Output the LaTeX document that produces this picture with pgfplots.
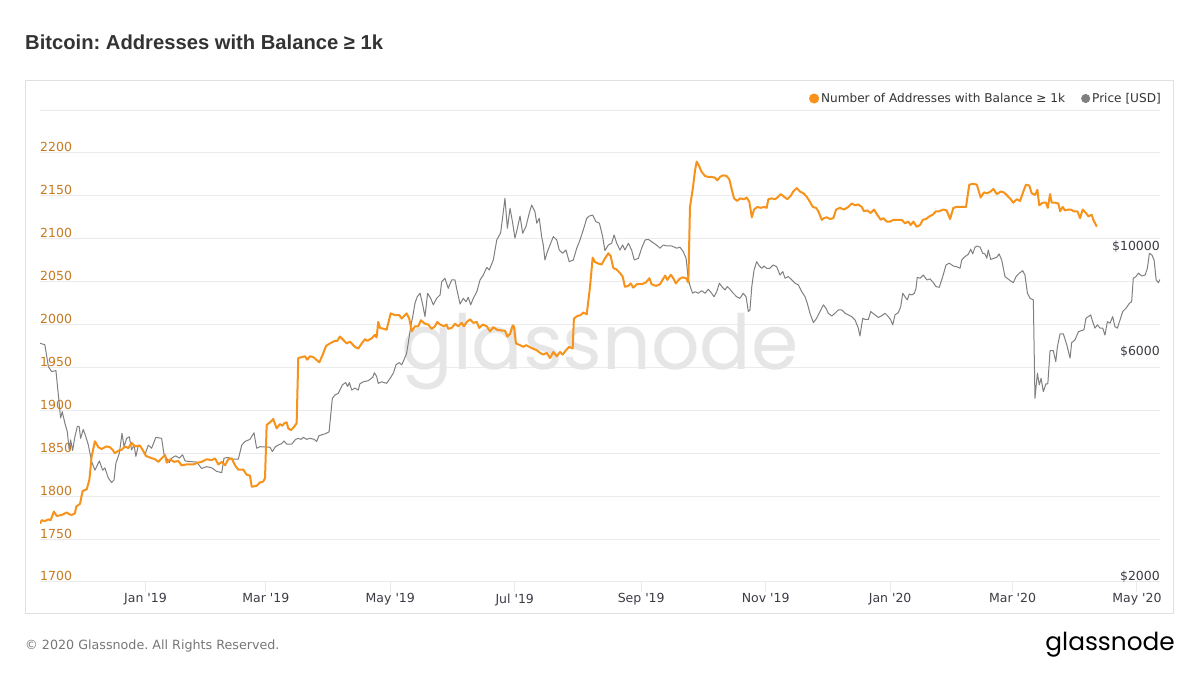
\documentclass[border=0pt]{standalone}
\usepackage{pgfplots}
\pgfplotsset{compat=1.18}
\usepackage{fontspec}
\setmainfont{DejaVu Sans}
\newfontfamily\titlefont{Liberation Sans}
\newfontfamily\logofont{Poppins}

\definecolor{btcorange}{HTML}{F7931A}
\definecolor{pricegray}{HTML}{808080}
\definecolor{gridgray}{HTML}{EBEBEB}
\definecolor{framegray}{HTML}{E0E0E0}
\definecolor{leftlab}{HTML}{C97A20}
\definecolor{darklab}{HTML}{3C3C46}
\definecolor{titlecol}{HTML}{333333}
\definecolor{footgray}{HTML}{777777}
\definecolor{wmgray}{HTML}{E6E6E6}

\newcommand\lab{\fontsize{12.5}{15}\selectfont}

% all three axes share this frame (1px = 1pt)
\pgfplotsset{
  panel/.style={
    at={(40pt,93pt)}, anchor=south west,
    scale only axis, width=1120pt, height=472pt,
    xmin=-51.7, xmax=497.3,
    /pgf/number format/assume math mode=true,
    /pgf/number format/1000 sep={},
  },
}

\begin{document}
\frenchspacing
\begin{tikzpicture}
\useasboundingbox (0pt,0pt) rectangle (1200pt,675pt);
\fill[white] (0pt,0pt) rectangle (1200pt,675pt);
\draw[framegray, line width=1pt] (25.5pt,61.5pt) rectangle (1173.5pt,594.5pt);
\node[anchor=base west, inner sep=0pt, text=titlecol,
  font=\titlefont\bfseries\fontsize{20.2}{24}\selectfont] at (25pt,625pt)
  {Bitcoin: Addresses with Balance ≥ 1k};
\node[anchor=base west, inner sep=0pt, text=footgray, font=\fontsize{12.7}{15}\selectfont] at (25pt,25pt)
  {© 2020 Glassnode. All Rights Reserved.};
\node[anchor=base east, inner sep=0pt, font=\logofont\fontsize{24.8}{30}\selectfont]
  at (1175pt,24.5pt) {glassnode};

% grid, left scale, dates
\begin{axis}[panel,
  ymin=1700, ymax=2250,
  ytick={1700,1750,...,2200},
  extra y ticks={2250}, extra y tick labels={},
  extra y tick style={grid=major},
  ymajorgrids, grid style={gridgray, line width=1pt},
  axis line style={draw=none},
  ytick style={draw=none},
  xtick={0,59,120,181,243,304,365,425,486},
  xticklabels={Jan \textquotesingle19, Mar \textquotesingle19, May \textquotesingle19,
    Jul \textquotesingle19, Sep \textquotesingle19, Nov \textquotesingle19,
    Jan \textquotesingle20, Mar \textquotesingle20, May \textquotesingle20},
  tick align=outside, major tick length=10pt,
  xtick style={gridgray, line width=1pt},
  xtick pos=bottom, ytick pos=left,
  xticklabel style={font=\lab, text=darklab, yshift=2pt},
  yticklabel style={font=\lab, text=leftlab, anchor=base west, inner sep=0pt,
    xshift=10pt, yshift=1pt},
]
\node[font=\logofont\fontsize{76}{90}\selectfont, text=wmgray] at (axis cs:222.8,1968) {glassnode};
\end{axis}

% price, log scale on the right
\begin{axis}[panel,
  ymode=log, ymin=2000, ymax=20000,
  hide x axis, axis y line*=right, axis line style={draw=none},
  ytick={2000,6000,10000}, yticklabels={\$2000,\$6000,\$10000},
  ytick style={draw=none},
  yticklabel style={font=\lab, text=darklab, anchor=base east, inner sep=0pt, yshift=1.5pt},
]
\addplot[pricegray, line width=1pt, line join=round] table {
-51.7 6410
-49.3 6360
-47.6 5720
-46.0 5580
-43.9 5610
-42.7 4980
-41.6 4450
-40.8 4590
-39.5 4340
-38.3 4160
-37.4 3810
-36.7 4000
-35.7 3800
-34.6 4060
-33.4 4270
-32.5 4270
-31.8 4030
-30.5 4210
-29.2 4060
-28.0 3900
-26.4 3600
-24.8 3450
-22.6 3610
-21.0 3450
-19.9 3490
-18.2 3320
-16.6 3250
-15.4 3290
-14.5 3570
-12.8 3750
-11.5 4130
-10.5 3870
-9.2 4030
-7.9 4060
-6.8 3810
-5.6 3900
-4.7 3690
-3.5 3900
-1.9 3840
-0.2 3730
1.4 3900
3.0 3840
5.1 4050
7.9 4030
9.1 3730
11.7 3580
12.8 3660
14.8 3700
16.6 3660
18.2 3720
19.4 3610
21.0 3600
25.1 3590
27.5 3480
30.0 3510
32.5 3490
34.9 3430
37.4 3410
38.5 3660
40.6 3670
43.0 3640
45.5 3640
47.2 3900
48.8 3970
51.2 4010
53.2 4140
54.5 3840
56.1 3870
61.0 3860
62.2 3780
63.7 3870
65.1 3900
66.8 3930
67.9 3980
69.2 3920
71.7 3920
73.6 4010
74.9 4030
76.2 4010
77.4 4050
79.0 4010
80.6 4030
82.7 4010
83.9 3970
85.0 4080
86.4 4100
88.0 4120
90.0 4160
91.6 4900
92.9 4980
94.5 5020
96.5 5230
98.1 5290
99.1 5190
99.9 5290
101.1 5100
102.7 5150
104.3 5100
105.1 5260
106.8 5310
109.2 5340
111.4 5430
112.2 5550
113.3 5450
114.1 5270
115.8 5310
118.2 5270
119.9 5400
121.5 5540
122.8 5770
124.4 5830
125.6 5770
126.7 5910
128.0 6100
128.8 6410
130.0 6950
131.0 7300
132.1 7790
133.2 8040
134.6 8180
135.9 7730
137.0 7300
138.3 8180
139.8 7980
141.1 7730
142.7 7980
144.4 8110
145.2 8650
146.8 8800
148.4 8380
150.1 8730
151.7 8730
152.5 8380
154.2 7760
155.8 7980
157.1 7850
158.2 8020
159.4 7730
160.7 7980
162.4 8240
164.0 8730
165.6 8940
167.3 9280
168.5 9160
170.5 9620
172.2 10610
174.1 10990
175.1 11880
176.2 13000
177.4 11230
178.7 12380
180.0 11510
181.1 10700
182.3 11230
183.6 11920
184.9 10960
186.5 11320
188.1 12080
189.3 12580
190.9 12180
191.8 11510
193.0 11790
194.2 10780
195.0 10350
195.8 9620
197.0 10020
198.3 10350
199.9 10780
201.6 10610
202.8 10100
204.5 9940
206.1 10100
207.7 9540
209.7 9620
211.4 10190
213.0 10610
214.6 11140
216.3 11790
217.5 11920
219.2 11980
220.8 11600
222.5 11510
224.1 10780
225.2 10070
226.9 10350
228.5 10440
229.7 10870
231.0 10440
232.6 10100
233.9 10350
235.0 10100
236.7 10440
238.3 10100
239.6 9620
241.6 9700
243.2 10190
244.9 10610
246.5 10640
248.1 10520
249.8 10400
251.4 10270
252.2 10190
253.8 10350
255.5 10300
257.9 10300
260.4 10190
262.0 10240
263.6 10020
265.0 9700
266.1 8730
267.3 8380
268.2 8180
269.4 8240
271.0 8180
272.6 8280
274.3 8180
275.9 8340
277.5 8180
278.7 8040
280.0 8240
281.3 8590
282.5 8450
284.1 8310
285.2 8450
286.5 8340
288.1 8180
289.8 8040
291.4 7980
293.0 8180
294.4 8040
295.5 7480
296.3 7540
297.2 8450
298.3 9160
299.6 9540
300.9 9340
302.1 9240
303.2 9340
304.5 9240
306.1 9240
307.7 9390
309.4 9310
311.0 8940
312.4 9090
313.5 8800
315.1 8870
316.8 8730
318.4 8590
320.0 8520
321.7 8240
323.3 8040
324.4 7790
325.7 7420
327.4 7090
329.0 7240
330.6 7480
332.3 7730
333.6 7600
334.7 7420
336.4 7320
338.0 7420
339.6 7540
341.3 7540
342.9 7420
344.5 7360
346.2 7300
347.8 7180
349.4 6900
350.2 6640
351.6 7240
352.7 7200
354.3 7200
355.5 7480
357.6 7360
359.2 7270
360.9 7330
362.5 7420
364.1 7300
365.3 7180
366.3 7010
367.4 7360
369.0 7440
370.2 7660
371.2 8180
372.3 8040
373.4 7920
374.4 8150
375.6 8110
376.9 8180
377.7 8380
378.3 8840
379.7 8800
381.3 8940
383.0 8730
384.6 8770
386.2 8610
387.5 8450
389.1 8420
390.8 8870
392.4 9390
394.0 9470
396.0 9340
397.6 9310
399.3 9240
400.1 9620
401.7 9780
403.3 9890
404.5 10140
405.5 9910
406.6 10240
407.7 10300
409.1 10240
410.4 9940
411.5 9910
412.4 9700
413.1 10100
414.3 9650
415.9 9700
417.3 9750
418.4 9910
419.7 9620
421.3 8870
423.4 8730
425.4 8610
426.7 8870
428.3 9020
430.0 9130
431.1 8940
432.3 8180
433.6 7980
435.2 7920
436.0 4900
437.2 5540
438.1 5230
439.0 5400
440.1 5060
441.4 5260
442.3 5260
443.4 6180
445.0 6180
446.2 5860
447.0 6300
448.3 6710
449.9 6710
451.6 6360
453.2 5960
454.0 6430
455.6 6510
457.3 6780
458.9 6820
460.0 6840
461.0 7240
462.2 7300
463.3 7360
464.3 7120
465.4 6900
466.6 7010
467.9 6900
469.2 6900
470.3 6670
471.5 7120
472.8 7070
474.1 7300
475.2 6950
476.4 6900
477.7 7180
479.0 7480
480.6 7600
482.3 7790
483.4 7850
484.2 8800
485.5 8870
486.7 9020
488.3 8900
490.0 8940
491.1 9240
492.1 9940
493.3 9860
494.4 9620
495.4 8730
496.5 8610
497.3 8750
};
\end{axis}

% addresses with balance >= 1k, and the legend
\begin{axis}[panel,
  ymin=1700, ymax=2250,
  hide axis,
  legend image code/.code={\fill[#1] (0pt,0pt) circle (4pt);},
  legend style={at={(1,1)}, anchor=east, xshift=3pt, yshift=11.5pt,
    draw=none, fill=none, inner sep=0pt, font=\fontsize{12.1}{15}\selectfont, text=titlecol,
    legend columns=2, /tikz/every even column/.append style={column sep=14pt}},
]
\addplot[btcorange, line width=2pt, line join=round] table {
-51.7 1768
-50.9 1772
-49.3 1771
-47.6 1773
-46.5 1772
-44.9 1782
-43.5 1777
-41.1 1778
-38.6 1781
-37.4 1779
-36.2 1778
-34.6 1780
-33.9 1788
-32.1 1791
-30.8 1806
-28.8 1808
-27.5 1819
-26.4 1846
-24.8 1864
-23.1 1857
-21.5 1855
-19.9 1857
-19.0 1858
-17.4 1857
-16.1 1854
-15.0 1850
-13.3 1853
-11.7 1854
-10.0 1858
-8.4 1856
-6.8 1862
-5.1 1858
-2.7 1859
-1.4 1854
0.2 1847
2.2 1845
4.7 1843
6.3 1840
7.9 1844
9.6 1848
10.4 1839
12.0 1843
14.0 1840
16.1 1841
17.7 1836
20.2 1837
23.4 1837
25.7 1839
27.5 1840
30.0 1843
32.5 1842
34.1 1844
35.7 1837
37.4 1840
39.0 1836
40.6 1843
42.3 1844
43.9 1836
45.5 1831
47.9 1831
49.6 1825
51.2 1824
52.1 1811
54.5 1812
56.1 1816
57.7 1817
58.6 1821
59.4 1883
61.5 1887
62.6 1890
64.3 1879
65.9 1884
67.1 1882
68.0 1885
69.2 1886
70.0 1879
71.3 1877
72.9 1881
74.1 1885
74.9 1961
78.2 1963
79.3 1959
80.6 1963
82.3 1962
85.2 1956
86.9 1965
88.5 1975
90.4 1978
92.9 1981
94.0 1981
95.3 1986
97.0 1982
98.6 1978
100.2 1980
102.7 1974
104.3 1972
106.0 1978
107.6 1983
108.7 1981
110.9 1984
112.5 1988
113.3 1985
114.1 2003
115.0 1996
116.9 1995
118.2 1994
120.2 2013
122.3 2011
124.4 2011
125.6 2007
128.0 2013
129.3 2007
130.5 1992
132.1 1998
133.7 1998
135.0 2005
137.0 2001
138.6 2000
140.3 1995
141.9 1998
143.0 2003
144.4 2000
146.3 1998
147.6 2000
148.4 1995
150.1 1996
151.7 2001
153.3 1998
155.0 2002
156.1 1998
157.5 2003
159.1 2006
160.7 2002
162.4 2003
163.6 1996
165.3 2000
167.3 1998
168.9 1992
170.5 1997
172.2 1994
174.6 1993
176.2 1993
177.4 1986
178.7 1989
180.0 1999
180.6 1998
181.6 1978
183.6 1976
185.2 1974
186.5 1976
188.1 1974
189.8 1972
191.8 1970
193.4 1967
195.0 1965
196.7 1967
198.3 1961
199.9 1968
201.6 1963
203.2 1968
204.5 1965
206.1 1970
207.7 1974
209.4 1972
210.0 2007
211.7 2010
213.3 2011
214.6 2014
216.3 2012
217.9 2044
219.2 2078
220.3 2073
222.0 2071
223.6 2070
225.2 2077
226.9 2083
228.0 2080
229.3 2066
231.0 2064
232.6 2060
233.9 2056
235.0 2044
236.7 2045
237.8 2048
239.1 2043
240.8 2047
243.2 2047
245.3 2049
247.0 2054
248.1 2047
250.2 2045
252.2 2047
254.7 2057
255.8 2052
257.5 2058
258.7 2054
260.0 2048
261.7 2053
263.3 2055
265.0 2054
266.1 2049
266.9 2137
268.2 2157
269.4 2180
270.2 2190
271.5 2184
272.6 2178
274.3 2173
275.9 2172
277.5 2172
279.2 2171
280.3 2168
281.6 2172
283.2 2174
284.9 2173
286.2 2169
287.4 2157
288.5 2147
290.1 2144
291.4 2147
293.4 2146
294.7 2148
296.0 2143
297.2 2125
298.3 2134
299.9 2137
301.6 2136
303.2 2137
304.5 2136
305.3 2146
307.0 2147
308.6 2146
310.2 2149
311.4 2152
313.0 2149
314.6 2146
316.3 2150
317.5 2155
319.2 2159
320.8 2155
322.5 2153
324.1 2149
325.7 2143
327.1 2137
328.7 2136
329.8 2132
331.5 2122
332.6 2124
333.9 2125
335.5 2123
337.2 2124
338.5 2134
340.4 2136
342.4 2134
344.5 2137
346.2 2141
347.8 2139
349.4 2140
351.1 2137
352.2 2132
353.8 2133
355.5 2130
357.1 2134
358.4 2129
360.4 2122
361.7 2124
363.3 2120
364.9 2120
366.6 2122
368.5 2122
370.7 2122
372.3 2118
373.9 2120
375.1 2116
376.4 2120
378.0 2114
379.7 2116
381.0 2122
382.6 2123
384.2 2126
385.9 2128
387.5 2132
389.1 2132
391.1 2134
392.7 2133
394.4 2123
396.0 2136
397.6 2137
400.1 2137
402.2 2137
403.8 2163
405.8 2164
407.5 2163
409.4 2148
411.0 2154
412.6 2153
414.3 2155
415.6 2158
417.3 2152
419.2 2155
420.8 2154
422.5 2150
424.1 2146
425.4 2142
427.1 2146
428.7 2144
430.3 2155
431.6 2163
433.2 2162
434.4 2153
436.0 2151
437.2 2157
438.1 2139
439.8 2142
441.4 2142
442.3 2136
443.4 2152
444.2 2142
445.8 2142
447.5 2141
448.3 2132
449.6 2137
450.7 2133
452.3 2134
453.5 2134
455.1 2132
456.8 2132
458.1 2124
459.4 2134
461.0 2130
462.2 2126
463.8 2128
464.6 2122
466.3 2114
};
\addlegendentry{Number of Addresses with Balance ≥ 1k}
\addlegendimage{pricegray, line width=1pt}
\addlegendentry{Price [USD]}
\end{axis}
\end{tikzpicture}
\end{document}
